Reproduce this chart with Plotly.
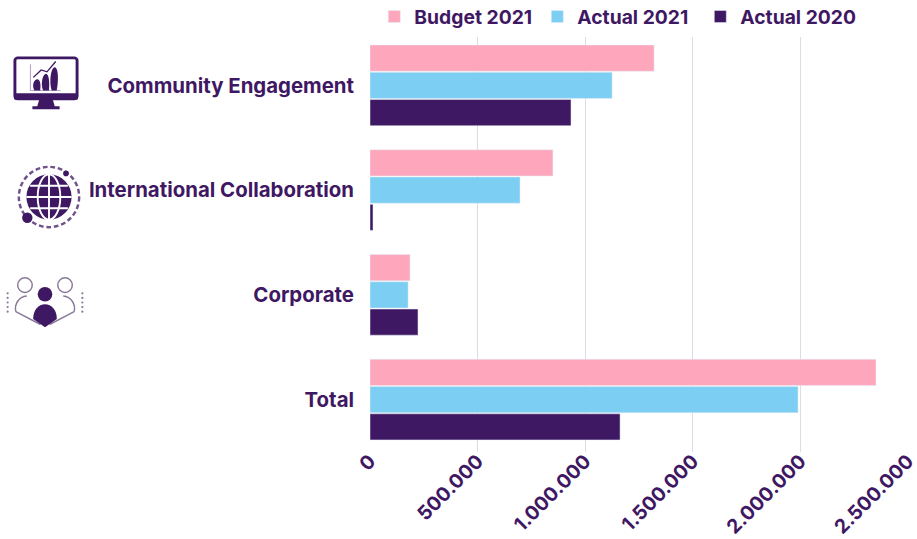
import base64
import plotly.graph_objects as go

categories = ["Community Engagement", "International Collaboration", "Corporate", "Total"]
budget_2021 = [1320000, 850000, 186000, 2351000]
actual_2021 = [1125000, 697000, 177000, 1989000]
actual_2020 = [934000, 14000, 223000, 1162000]
tick_values = [0, 500000, 1000000, 1500000, 2000000, 2500000]
tick_labels = ["0", "500.000", "1.000.000", "1.500.000", "2.000.000", "2.500.000"]

PURPLE = "#3f1863"
PINK = "#fea6bc"
BLUE = "#7dcef3"
GRID = "#dcdce6"
FONT = "Inter, Liberation Sans, sans-serif"
SIZE = 20.4

W, H = 917, 539
L, R, T, B = 370, 9, 33, 87
PW, PH = W - L - R, H - T - B


def uri(svg):
    return "data:image/svg+xml;base64," + base64.b64encode(svg.encode()).decode()


def icon(svg, px, py, pw, ph):
    return dict(source=uri(svg), xref="paper", yref="paper", xanchor="left", yanchor="top",
                sizing="stretch", layer="above",
                x=(px - L) / PW, y=1 - (py - T) / PH, sizex=pw / PW, sizey=ph / PH)


monitor = f'''<svg xmlns="http://www.w3.org/2000/svg" viewBox="0 0 70 60">
<rect x="3" y="3" width="64" height="44" rx="3" fill="none" stroke="{PURPLE}" stroke-width="3"/>
<rect x="2" y="41" width="66" height="7" rx="2" fill="{PURPLE}"/>
<path d="M28 48h14l2 7h5v3H21v-3h5z" fill="{PURPLE}"/>
<path d="M19 10V38H50" fill="none" stroke="#b9a9c8" stroke-width="1.2"/>
<path d="M23 38c-3-6 0-12 3-12s4 6 3 12zM32 38c-3-8 0-18 3-18s4 10 3 18zM41 38c-3-9-1-25 3-25s4 16 2 25z" fill="{PURPLE}"/>
<path d="M22 24l8-8 6 2 9-11" fill="none" stroke="{PURPLE}" stroke-width="1.4"/>
</svg>'''

globe = f'''<svg xmlns="http://www.w3.org/2000/svg" viewBox="0 0 70 70">
<circle cx="35" cy="35" r="32" fill="none" stroke="{PURPLE}" stroke-width="2.6" stroke-dasharray="5 3" opacity="0.75"/>
<circle cx="35" cy="35" r="24" fill="{PURPLE}"/>
<g fill="none" stroke="#fff" stroke-width="2">
<ellipse cx="35" cy="35" rx="12" ry="24"/>
<path d="M35 11V59M11 35H59M15 23H55M15 47H55"/>
</g>
<circle cx="12" cy="57" r="5.5" fill="{PURPLE}"/>
<circle cx="53" cy="10" r="3" fill="{PURPLE}"/>
</svg>'''

people = f'''<svg xmlns="http://www.w3.org/2000/svg" viewBox="0 0 90 60">
<g fill="none" stroke="#8a7a99" stroke-width="1.6">
<circle cx="23" cy="11" r="8"/><circle cx="67" cy="11" r="8"/>
<path d="M13 40c-2-8 3-16 12-17M77 40c2-8-3-16-12-17M13 40l27 14M77 40L50 54"/>
</g>
<circle cx="45" cy="21" r="8" fill="{PURPLE}"/>
<path d="M32 48c0-10 6-16 13-16s13 6 13 16l-13 9z" fill="{PURPLE}"/>
<g fill="#8a7a99">
<circle cx="4" cy="20" r="1.2"/><circle cx="4" cy="25" r="1.2"/><circle cx="4" cy="30" r="1.2"/><circle cx="4" cy="35" r="1.2"/><circle cx="4" cy="40" r="1.2"/>
<circle cx="86" cy="20" r="1.2"/><circle cx="86" cy="25" r="1.2"/><circle cx="86" cy="30" r="1.2"/><circle cx="86" cy="35" r="1.2"/><circle cx="86" cy="40" r="1.2"/>
</g>
</svg>'''

fig = go.Figure()
for name, values, color in [
    ("Budget 2021", budget_2021, PINK),
    ("Actual 2021", actual_2021, BLUE),
    ("Actual 2020", actual_2020, PURPLE),
]:
    fig.add_trace(go.Bar(y=categories, x=values, name=name, orientation="h", marker_color=color))

tf = dict(size=SIZE, family=FONT, color=PURPLE, weight=700)
xtf = dict(size=19.5, family=FONT, color=PURPLE, weight=700)
ltf = dict(size=19.3, family=FONT, color=PURPLE, weight=700)
fig.update_layout(
    width=W, height=H,
    margin=dict(l=L, r=R, t=T, b=B, autoexpand=False),
    paper_bgcolor="white", plot_bgcolor="white",
    barmode="group", bargap=0.22, bargroupgap=0.04,
    font=tf,
    legend=dict(orientation="h", x=0.008, xanchor="left", y=1 + 16 / PH, yanchor="middle",
                font=ltf, traceorder="normal", entrywidth=118, entrywidthmode="pixels",
                itemclick=False, itemdoubleclick=False),
    showlegend=True,
    images=[
        icon(monitor, 12, 55, 68, 56),
        icon(globe, 16, 164, 66, 66),
        icon(people, 4, 275, 82, 55),
    ],
)
fig.update_xaxes(range=[0, 2500000], tickvals=tick_values, ticktext=tick_labels, tickangle=-45,
                 showgrid=True, gridcolor=GRID, gridwidth=1, zeroline=False, showline=False,
                 ticks="", ticklabelstandoff=-7, ticklabeloverflow="allow", tickfont=xtf)
fig.update_yaxes(autorange="reversed", showgrid=False, zeroline=False, showline=False, ticks="",
                 ticklabelstandoff=15, tickfont=tf)
fig.write_html("out.html", config=dict(displayModeBar=False),
               post_script="document.documentElement.style.overflow='hidden';document.body.style.margin='0';")
